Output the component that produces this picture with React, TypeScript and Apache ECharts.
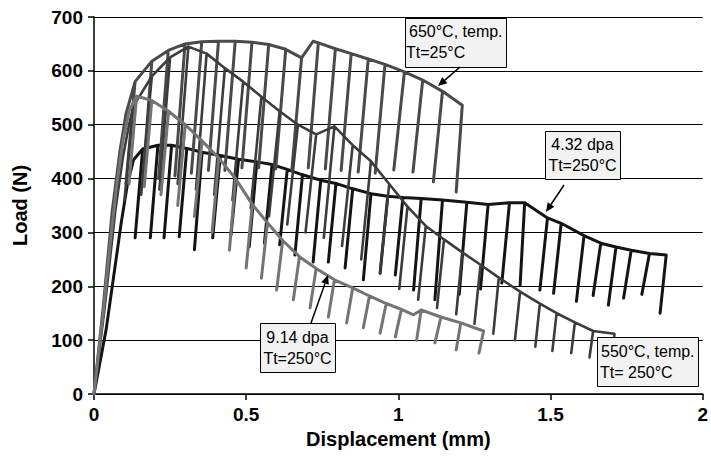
import React, { useEffect, useRef } from "react";
import * as echarts from "echarts";

// ---- Data (displacement mm, load N) ----
// Each curve: elastic start points, then unload cycles [xTop, yTop, xBottom, yBottom]
// (a cycle with only [x, y] is a plain envelope point)
const xTicks = ["0", "0.5", "1", "1.5", "2"];
const yTicks = ["0", "100", "200", "300", "400", "500", "600", "700"];

const startA: number[][] = [[0, 0], [0.03, 160], [0.06, 340], [0.085, 450], [0.105, 520]];
const cyclesA: number[][] = [
  [0.135, 580, 0.105, 390], [0.19, 618, 0.16, 395], [0.244, 638, 0.212, 400],
  [0.299, 650, 0.266, 405], [0.354, 654, 0.32, 410], [0.409, 655, 0.376, 415],
  [0.464, 655, 0.43, 415], [0.519, 653, 0.486, 420], [0.574, 649, 0.541, 420],
  [0.63, 640, 0.597, 418], [0.682, 624, 0.65, 415], [0.72, 655],
  [0.737, 652, 0.704, 420], [0.793, 641, 0.76, 418], [0.845, 632, 0.812, 415],
  [0.901, 622, 0.868, 412], [0.956, 612, 0.924, 410], [1.02, 598, 0.985, 416],
  [1.08, 583, 1.048, 412], [1.145, 562, 1.115, 394], [1.21, 536, 1.19, 375],
];

const startB: number[][] = [[0, 0], [0.035, 160], [0.07, 340], [0.095, 440], [0.115, 500]];
const cyclesB: number[][] = [
  [0.13, 535, 0.1, 360], [0.19, 590, 0.155, 370], [0.25, 625, 0.215, 380],
  [0.31, 645, 0.275, 390], [0.37, 632, 0.335, 380], [0.43, 605, 0.395, 370],
  [0.49, 580, 0.455, 360], [0.55, 552, 0.515, 345], [0.61, 525, 0.575, 330],
  [0.67, 500, 0.635, 315], [0.73, 482, 0.695, 300], [0.79, 497, 0.755, 290],
  [0.85, 462, 0.815, 275], [0.91, 432, 0.878, 250], [0.97, 390, 0.94, 225],
  [1.03, 348, 1.003, 195], [1.09, 312, 1.065, 175], [1.15, 287, 1.127, 160],
  [1.21, 263, 1.19, 148], [1.27, 240, 1.25, 130], [1.33, 216, 1.312, 112],
  [1.4, 190, 1.383, 100], [1.465, 168, 1.45, 88], [1.52, 150, 1.506, 80],
  [1.58, 133, 1.568, 76], [1.64, 117, 1.628, 68], [1.71, 112, 1.7, 40],
];

const startC: number[][] = [[0, 0], [0.04, 120], [0.07, 240], [0.09, 320], [0.11, 390], [0.13, 435]];
const cyclesC: number[][] = [
  [0.16, 455, 0.135, 290], [0.21, 462, 0.185, 290], [0.255, 462, 0.23, 290],
  [0.305, 456, 0.28, 292], [0.355, 449, 0.33, 268], [0.415, 443, 0.39, 290],
  [0.475, 436, 0.45, 295], [0.535, 431, 0.51, 273], [0.585, 426, 0.56, 280],
  [0.635, 417, 0.61, 277], [0.685, 407, 0.66, 258], [0.745, 397, 0.72, 245],
  [0.795, 391, 0.77, 245], [0.85, 381, 0.825, 234], [0.91, 372, 0.885, 212],
  [0.965, 367, 0.94, 224], [1.015, 365, 0.99, 221], [1.075, 363, 1.05, 193],
  [1.145, 360, 1.12, 175], [1.225, 356, 1.2, 185], [1.295, 352, 1.27, 195],
  [1.365, 355, 1.34, 206], [1.415, 355, 1.4, 202], [1.49, 327, 1.465, 193],
  [1.535, 317, 1.51, 187], [1.61, 294, 1.585, 172], [1.665, 280, 1.64, 183],
  [1.715, 273, 1.69, 165], [1.765, 267, 1.74, 178], [1.825, 261, 1.8, 185],
  [1.88, 258, 1.86, 150],
];

const startD: number[][] = [[0, 0], [0.03, 150], [0.055, 290], [0.075, 390], [0.095, 470], [0.115, 525]];
const cyclesD: number[][] = [
  [0.14, 553, 0.115, 390], [0.19, 545, 0.165, 385], [0.245, 525, 0.22, 370],
  [0.3, 500, 0.275, 350], [0.355, 470, 0.33, 330], [0.41, 438, 0.388, 300],
  [0.465, 400, 0.445, 267], [0.52, 352, 0.5, 234], [0.57, 318, 0.55, 215],
  [0.62, 285, 0.6, 193], [0.675, 255, 0.655, 175], [0.73, 233, 0.71, 160],
  [0.79, 212, 0.77, 143], [0.85, 197, 0.83, 132], [0.905, 182, 0.885, 123],
  [0.96, 168, 0.94, 113], [1.01, 157, 0.99, 106], [1.05, 147],
  [1.075, 156, 1.06, 100], [1.14, 143, 1.12, 95], [1.205, 132, 1.19, 82],
  [1.28, 117, 1.265, 76],
];

function buildPath(start: number[][], cycles: number[][]): number[][] {
  const pts: number[][] = start.map((p) => [p[0], p[1]]);
  cycles.forEach((c, i) => {
    pts.push([c[0], c[1]]);
    if (c.length === 4) {
      pts.push([c[2], c[3]]);
      if (i < cycles.length - 1) pts.push([c[0], c[1]]);
    }
  });
  return pts;
}

const FONT = "'Liberation Sans', Arial, Helvetica, sans-serif";

function box(x: number, y: number, w: number, h: number) {
  return {
    type: "rect",
    z: 100,
    shape: { x: x + 0.5, y: y + 0.5, width: w, height: h },
    style: { fill: "#f2f2f2", stroke: "#000", lineWidth: 1 },
  };
}
function label(x: number, y: number, text: string, align: string) {
  return {
    type: "text",
    z: 101,
    x,
    y,
    style: {
      text,
      fill: "#000",
      font: `16px ${FONT}`,
      align,
      verticalAlign: "middle",
    },
  };
}
function arrow(x1: number, y1: number, x2: number, y2: number) {
  const ang = Math.atan2(y2 - y1, x2 - x1);
  const L = 9;
  const W = 4;
  const bx = x2 - L * Math.cos(ang);
  const by = y2 - L * Math.sin(ang);
  const nx = -Math.sin(ang);
  const ny = Math.cos(ang);
  return [
    {
      type: "line",
      z: 101,
      shape: { x1, y1, x2: bx, y2: by },
      style: { stroke: "#000", lineWidth: 1.5 },
    },
    {
      type: "polygon",
      z: 101,
      shape: {
        points: [
          [x2, y2],
          [bx + nx * W, by + ny * W],
          [bx - nx * W, by - ny * W],
        ],
      },
      style: { fill: "#000" },
    },
  ];
}

export default function App() {
  const ref = useRef<HTMLDivElement>(null);
  useEffect(() => {
    document.body.style.margin = "0";
    if (!ref.current) return;
    const chart = echarts.init(ref.current, undefined, { renderer: "svg" });
    const mkSeries = (name: string, data: number[][], color: string, width: number) => ({
      name,
      type: "line",
      data,
      showSymbol: false,
      symbol: "none",
      lineStyle: { color, width, join: "round", cap: "round" },
      emphasis: { disabled: true },
    });
    chart.setOption({
      animation: false,
      backgroundColor: "#fff",
      grid: { left: 94, right: 4, top: 17, bottom: 69, containLabel: false },
      xAxis: {
        type: "value",
        min: 0,
        max: 2,
        interval: 0.5,
        name: "Displacement (mm)",
        nameLocation: "middle",
        nameGap: 33,
        nameTextStyle: { fontFamily: FONT, fontWeight: "bold", fontSize: 20, color: "#000" },
        axisLine: { lineStyle: { color: "#000", width: 1.5 } },
        axisTick: { show: true, inside: false, length: 6, lineStyle: { color: "#000", width: 1.5 } },
        axisLabel: {
          fontFamily: FONT,
          fontWeight: "bold",
          fontSize: 19,
          color: "#000",
          margin: 11,
          formatter: (v: number) => xTicks[Math.round(v / 0.5)] ?? String(v),
        },
        splitLine: { show: false },
      },
      yAxis: {
        type: "value",
        min: 0,
        max: 700,
        interval: 100,
        name: "Load (N)",
        nameLocation: "middle",
        nameGap: 64,
        nameTextStyle: { fontFamily: FONT, fontWeight: "bold", fontSize: 20, color: "#000" },
        axisLine: { show: true, lineStyle: { color: "#000", width: 1.5 } },
        axisTick: { show: true, inside: false, length: 6, lineStyle: { color: "#000", width: 1.5 } },
        axisLabel: {
          fontFamily: FONT,
          fontWeight: "bold",
          fontSize: 19,
          color: "#000",
          margin: 11,
          formatter: (v: number) => yTicks[Math.round(v / 100)] ?? String(v),
        },
        splitLine: { show: true, lineStyle: { color: "#000", width: 1 } },
      },
      series: [
        mkSeries("4.32 dpa", buildPath(startC, cyclesC), "#141414", 3),
        mkSeries("650C", buildPath(startA, cyclesA), "#4a4a4a", 3),
        mkSeries("550C", buildPath(startB, cyclesB), "#3c3c3c", 2.6),
        mkSeries("9.14 dpa", buildPath(startD, cyclesD), "#747474", 3),
      ],
      graphic: [
        box(405, 18, 101, 49),
        label(409, 31, "650°C, temp.", "left"),
        label(406, 52, "Tt=25°C", "left"),
        ...arrow(460, 67, 438, 86),
        box(545, 131, 75, 48),
        label(582.5, 144, "4.32 dpa", "center"),
        label(582.5, 165, "Tt=250°C", "center"),
        ...arrow(564, 185, 546, 212),
        box(260, 323, 75, 49),
        label(297.5, 337, "9.14 dpa", "center"),
        label(297.5, 358, "Tt=250°C", "center"),
        ...arrow(311, 323, 328, 275),
        box(597, 337, 101, 49),
        label(601, 351, "550°C, temp.", "left"),
        label(600, 372, "Tt= 250°C", "left"),
      ],
    });
    return () => chart.dispose();
  }, []);
  return <div ref={ref} style={{ width: 711, height: 463 }} />;
}
